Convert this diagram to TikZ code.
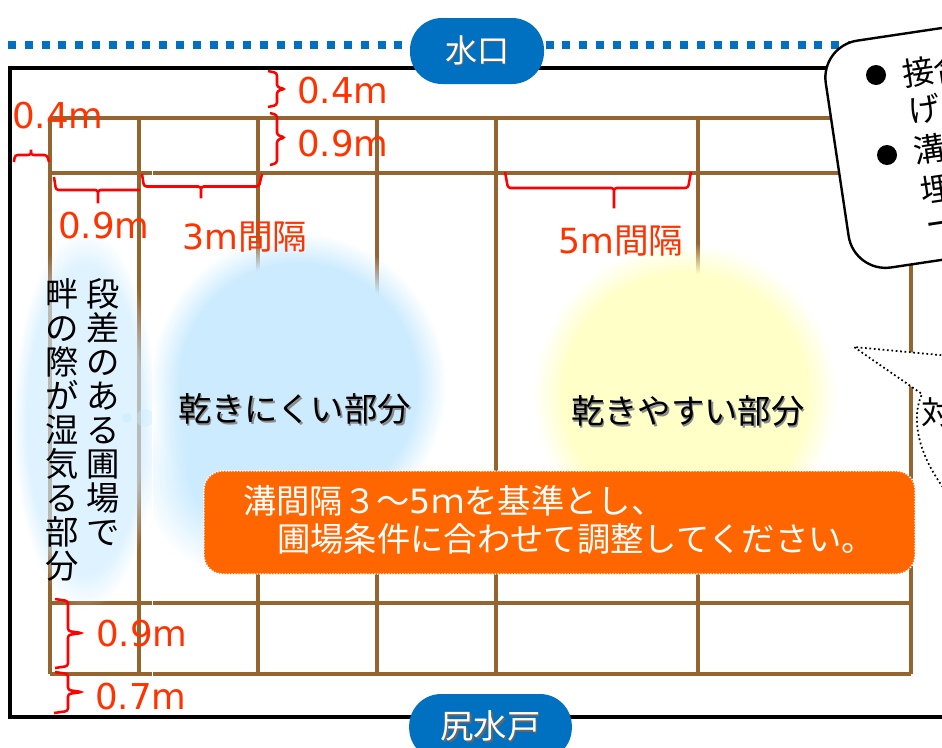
\documentclass[tikz,border=0pt]{standalone}
\usepackage{fontspec}
\setmainfont{Noto Sans CJK JP}
\newfontfamily\labelfont{DejaVu Sans}
\usetikzlibrary{fadings}
\definecolor{ridge}{HTML}{96642F}
\definecolor{gatecol}{HTML}{0070C0}
\definecolor{labelcol}{HTML}{FF3300}
\definecolor{bracecol}{HTML}{FF0000}
\definecolor{wetcol}{HTML}{CCEBFF}
\definecolor{drycol}{HTML}{FFFFC8}
\definecolor{boxcol}{HTML}{FF6600}
\pgfdeclareradialshading{softshade}{\pgfpointorigin}{color(0bp)=(white); color(20bp)=(white); color(25bp)=(black); color(50bp)=(black)}
\pgfdeclareradialshading{softershade}{\pgfpointorigin}{color(0bp)=(white); color(12bp)=(white); color(25bp)=(black); color(50bp)=(black)}
\tikzfading[name=softblob, shading=softshade]
\tikzfading[name=softerblob, shading=softershade]
\newcommand{\shadowed}[2]{\leavevmode\rlap{\raisebox{-1.2pt}{\hspace{1.2pt}\textcolor{#1}{#2}}}#2}
\tikzset{
    ridgeline/.style={draw=ridge, line width=2.3pt},
    bracket/.style={draw=bracecol, line width=1.9pt, rounded corners=2pt},
    sizelabel/.style={anchor=west, text=labelcol, font=\fontsize{26.7}{26.7}\labelfont, inner sep=0pt},
    gapped/.style={anchor=west, text=labelcol, font=\fontsize{26}{26}\selectfont, inner sep=0pt},
    gate/.style={fill=gatecol, text=white, rounded corners=24pt, font=\fontsize{24}{24}\selectfont, inner sep=0pt},
    wetpart/.style={anchor=west, font=\fontsize{25}{25}\selectfont, inner sep=0pt},
    column/.style={align=center, font=\fontsize{25}{25.5}\selectfont, inner sep=0pt, anchor=north},
    notetext/.style={anchor=west, rotate=8.5, font=\fontsize{24}{24}\selectfont, inner sep=0pt},
    bulletdot/.style={circle, fill=black, minimum size=15pt, inner sep=0pt},
    boxline/.style={anchor=west, text=white, font=\fontsize{25}{25}\selectfont, inner sep=0pt},
}
\begin{document}
\begin{tikzpicture}[x=0.75pt, y=-0.75pt]
    \useasboundingbox (0,0) rectangle (942,747);
    \clip (0,0) rectangle (942,747);
    % water line and field
    \draw [gatecol, line width=6pt, dash pattern=on 6pt off 6.6pt] (8,45)--(850,45);
    \draw [black, line width=3.6pt] (950,68)--(10,68)--(10,717)--(950,717);
    % grid
    \foreach \gridy in {118,173,603,674}
        \draw [ridgeline] (50,\gridy)--(911,\gridy);
    \foreach \gridx in {50,139,258,377,496,698,911}
        \draw [ridgeline] (\gridx,118)--(\gridx,674);
    % damp and dry parts
    \begin{scope}
        \clip (0,200) rectangle (152,640);
        \fill [wetcol, opacity=0.65, path fading=softblob] (85,420) ellipse (72 and 190);
        \fill [wetcol, opacity=0.6] (127,418) circle (5);
        \fill [wetcol, opacity=0.4] (145,418) circle (9);
    \end{scope}
    \fill [wetcol, path fading=softerblob] (235,470) ellipse (95 and 105);
    \fill [wetcol, path fading=softblob] (298,385) ellipse (148 and 152);
    \fill [drycol, path fading=softblob] (685,395) ellipse (152 and 152);
    \draw [white, line width=1.2pt] (152.5,122)--(152.5,677);
    % sizes
    \draw [bracket] (268,71)--(277,73)--(277,87)--(285,89)--(277,91)--(277,105)--(268,107);
    \draw [bracket] (270,113)--(277,115)--(277,135)--(285,137.5)--(277,140)--(277,163)--(270,165);
    \draw [bracket] (14,162)--(15,155)--(31,155)--(31,148)--(31,155)--(47,155)--(49,162);
    \draw [bracket] (54,177)--(56,190)--(98,190)--(98,205)--(98,190)--(140,190);
    \draw [bracket] (142,174)--(144,186.5)--(201,186.5)--(201,200)--(201,186.5)--(259,186.5)--(262,174);
    \draw [bracket] (505,172)--(508,188)--(614,188)--(614,210)--(614,188)--(688,188)--(691,172);
    \draw [bracket] (55,599)--(68,601)--(68,631)--(82,633)--(68,635)--(68,666)--(55,668);
    \draw [bracket] (55,672)--(68,674)--(68,690)--(82,692)--(68,694)--(68,711)--(54,713);
    \node [sizelabel] (topgap) at (297,91) {0.4m};
    \node [sizelabel] (topridge) at (297,144) {0.9m};
    \node [sizelabel] (sidegap) at (12,116) {0.4m};
    \node [sizelabel] (sideridge) at (58,226) {0.9m};
    \node [gapped] (narrowgap) at (182,237) {{\labelfont 3m}間隔};
    \node [gapped] (widegap) at (558,241) {{\labelfont 5m}間隔};
    \node [sizelabel] (lowridge) at (96,634) {0.9m};
    \node [sizelabel] (lowgap) at (95,697) {0.7m};
    % part names
    \node [wetpart] (wetname) at (178,410) {\shadowed{black!45}{乾きにくい部分}};
    \node [wetpart] (dryname) at (571,412) {\shadowed{black!45}{乾きやすい部分}};
    \node [column] (stepcolumn) at (103,278) {段\\差\\の\\あ\\る\\圃\\場\\で};
    \node [column] (sidecolumn) at (62,278) {畔\\の\\際\\が\\湿\\気\\る\\部\\分};
    % advice box
    \path [fill=boxcol, draw=white, line width=1.1pt, densely dotted, rounded corners=14pt] (204,471) rectangle (915,574);
    \node [boxline] (boxfirst) at (243,501) {溝間隔３～{\labelfont 5}ｍを基準とし、};
    \node [boxline] (boxsecond) at (277,539) {圃場条件に合わせて調整してください。};
    % inlet and outlet
    \node [gate, minimum width=100.5pt, minimum height=49.5pt] (inlet) at (477,51) {\shadowed{black!60}{水口}};
    \node [gate, minimum width=122pt, minimum height=49.5pt, font=\fontsize{25}{25}\selectfont] (outlet) at (490.5,727) {\shadowed{black!60}{尻水戸}};
    % notes
    \node [draw=black, fill=white, line width=1.8pt, rounded corners=28pt, rotate=8.5, minimum width=300pt, minimum height=172pt] (note) at (1035,130) {};
    \node [bulletdot] (firstdot) at (876,75) {};
    \node [bulletdot] (seconddot) at (887,155) {};
    \node [notetext] (notea) at (902,75) {接合};
    \node [notetext] (noteb) at (908,112) {げ};
    \node [notetext] (notec) at (913,151) {溝};
    \node [notetext] (noted) at (920,191) {埋};
    \node [notetext] (notee) at (926,231) {ー};
    \path [fill=white, draw=black, line width=1.3pt, dotted] (950,356)--(854,347)--(922,394) .. controls (912,415) and (915,450) .. (945,490);
    \node [notetext, rotate=-8.5] (notef) at (921,412) {対};
\end{tikzpicture}
\end{document}
